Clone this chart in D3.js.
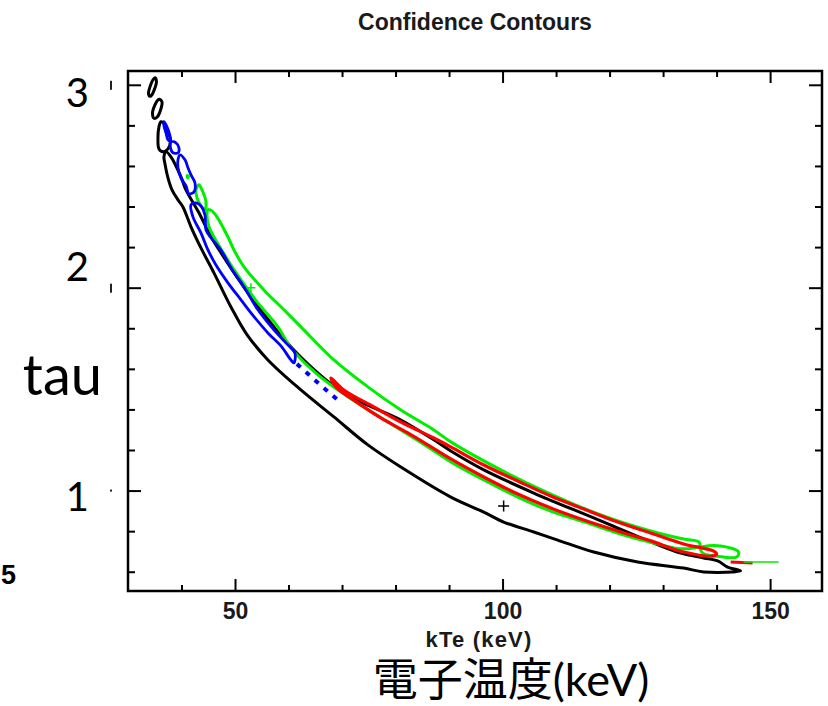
<!DOCTYPE html>
<html>
<head>
<meta charset="utf-8">
<script src="https://cdn.jsdelivr.net/npm/d3@7"></script>
<style>
  body { margin: 0; background: #fff; }
  svg { display: block; }
</style>
</head>
<body>
<svg id="chart" width="828" height="706"></svg>
<script>
// ---- axes ----
const kTeDomain = [30, 159.7];
const tauDomain = [0.505, 3.068];
const kTeMajorTicks = [50, 100, 150];
const kTeMinorTicks = [40, 60, 70, 80, 90, 110, 120, 130, 140];
const tauMajorTicks = [1, 2, 3];
const tauMinorTicks = [0.6, 0.8, 1.2, 1.4, 1.6, 1.8, 2.2, 2.4, 2.6, 2.8];
const tauLabels = ["1", "2", "3"];

// ---- confidence contours, [kTe (keV), tau] ----
const blackIslandA = [[35.04,3.035],[35.32,3.015],[35.04,2.985],[34.48,2.951],[34.11,2.943],[33.83,2.956],[34.11,2.990],[34.67,3.025]];
const blackIslandB = [[35.88,2.929],[36.35,2.916],[36.16,2.882],[35.42,2.840],[34.86,2.835],[34.58,2.862],[35.04,2.901],[35.60,2.926]];
const blackIslandC = [[36.16,2.818],[36.91,2.803],[37.47,2.768],[37.94,2.724],[37.47,2.684],[36.54,2.670],[35.79,2.684],[35.60,2.739],[35.79,2.793]];
const blackContour = [
  [37.10,2.670],[36.72,2.645],[36.91,2.610],[37.47,2.541],[38.22,2.482],[39.34,2.433],[40.27,2.398],
  [41.77,2.300],[43.63,2.196],[46.06,2.073],[49.24,1.905],[52.20,1.770],[56.15,1.644],[62.31,1.496],
  [68.48,1.363],[74.83,1.225],[80.99,1.116],[90.33,0.968],[96.49,0.894],[100.2,0.845],[105.83,0.796],
  [110.31,0.756],[117.04,0.697],[125.26,0.648],[133.85,0.618],[137.58,0.599],[144.49,0.604],
  [142.06,0.623],[140.20,0.653],[137.58,0.668],[133.29,0.692],[127.68,0.747],[117.04,0.865],
  [105.83,0.988],[96.49,1.102],[90.33,1.195],[87.15,1.250],[80.99,1.348],[70.34,1.481],[61.00,1.693],
  [52.97,1.955],[47.37,2.172],[45.13,2.270],[43.26,2.369],[40.83,2.482],[39.90,2.546],[38.03,2.645]
];

const blueIslandA = [[36.72,2.818],[37.28,2.793],[37.84,2.749],[37.94,2.724],[37.47,2.729],[37.10,2.763],[36.72,2.798]];
const blueIslandB = [[38.03,2.719],[38.96,2.714],[39.53,2.689],[39.34,2.665],[38.40,2.665],[37.94,2.689]];
const blueIslandC = [[39.71,2.655],[40.65,2.630],[41.21,2.591],[41.77,2.556],[42.51,2.517],[42.33,2.472],[41.39,2.463],[40.83,2.502],[39.90,2.541],[39.34,2.591],[39.34,2.630]];
const blueContour = [
  [41.77,2.408],[42.14,2.349],[43.63,2.270],[44.94,2.186],[46.44,2.112],[48.68,2.024],[51.11,1.940],
  [52.97,1.876],[56.15,1.777],[58.58,1.713],[60.44,1.644],[61.00,1.629],
  [61.19,1.678],[59.51,1.728],[57.27,1.792],[54.28,1.891],[51.67,2.004],[49.24,2.098],[47.37,2.186],
  [45.50,2.246],[44.57,2.285],[44.38,2.359],[43.63,2.403],[42.70,2.418]
];
const blueTail = [[61.57,1.624],[65.11,1.540],[69.41,1.442]];

const greenSpot = [[41.05,2.553],[41.30,2.548],[41.14,2.541]];
const greenIsland = [[43.26,2.507],[43.82,2.482],[44.57,2.423],[44.38,2.384],[43.63,2.403],[42.89,2.443],[42.70,2.482]];
const greenContour = [
  [44.94,2.384],[46.06,2.369],[48.68,2.250],[49.80,2.186],[51.67,2.103],[55.40,1.989],[59.14,1.891],
  [62.31,1.807],[68.48,1.644],[74.83,1.511],[80.99,1.397],[87.15,1.299],[90.33,1.240],[99.67,1.102],
  [109.00,0.983],[118.35,0.880],[127.68,0.801],[133.85,0.761],[136.65,0.747],[136.84,0.727],
  [133.29,0.713],[128.99,0.737],[122.64,0.781],[116.48,0.835],[109.00,0.899],[102.84,0.968],
  [96.49,1.052],[90.33,1.141],[86.03,1.215],[78.56,1.338],[71.65,1.452],[65.49,1.570],[60.44,1.703],
  [58.02,1.807],[54.28,1.925],[51.11,2.038],[47.93,2.167],[45.13,2.300],[44.76,2.359]
];
const greenIslandLow = [[137.02,0.717],[140.76,0.727],[144.12,0.697],[143.75,0.673],[139.83,0.678],[137.39,0.692]];
const greenTail = [[145.05,0.648],[151.59,0.648]];

const redContour = [
  [67.92,1.555],[70.34,1.496],[75.95,1.412],[80.99,1.338],[87.15,1.259],[90.33,1.215],[96.49,1.126],
  [102.84,1.047],[109.00,0.973],[115.17,0.909],[121.52,0.845],[127.68,0.791],[133.85,0.737],
  [139.45,0.702],[140.00,0.688],
  [139.45,0.678],[133.85,0.697],[127.68,0.752],[121.52,0.801],[115.17,0.855],[109.00,0.914],
  [102.84,0.983],[96.49,1.067],[90.33,1.156],[86.03,1.225],[82.30,1.284],[77.25,1.358],[72.96,1.432],
  [68.85,1.511]
];
const redTail = [[142.63,0.648],[146.73,0.643]];

const bestFitBlack = [100.2, 0.924];
const bestFitGreen = [52.97, 2.000];

// ---- drawing ----
const svg = d3.select("#chart");
const x = d3.scaleLinear().domain(kTeDomain).range([128, 822]);
const y = d3.scaleLinear().domain(tauDomain).range([591, 71]);
const [x0, x1] = x.range();
const [y0, y1] = y.range();

svg.append("rect").attr("width", 828).attr("height", 706).attr("fill", "#fff");

// title
svg.append("text")
  .attr("x", (x0 + x1) / 2).attr("y", 30)
  .attr("text-anchor", "middle")
  .attr("font-family", "'Liberation Sans', Arial, sans-serif")
  .attr("font-weight", "bold").attr("font-size", 23).attr("fill", "#1a1a1a")
  .text("Confidence Contours");

// contours, clipped to the plot frame
svg.append("clipPath").attr("id", "plotClip")
  .append("rect").attr("x", x0).attr("y", y1).attr("width", x1 - x0).attr("height", y0 - y1);
const plot = svg.append("g").attr("clip-path", "url(#plotClip)");

const closed = d3.line().x(d => x(d[0])).y(d => y(d[1])).curve(d3.curveCatmullRomClosed.alpha(0.5));
const open = d3.line().x(d => x(d[0])).y(d => y(d[1]));

const contourSets = [
  { rings: [blackIslandA, blackIslandB, blackIslandC, blackContour], color: "#000", width: 3 },
  { rings: [greenSpot, greenIsland, greenContour, greenIslandLow], color: "#00ee00", width: 3 },
  { rings: [redContour], color: "#ff0000", width: 3.2 },
  { rings: [blueIslandA, blueIslandB, blueIslandC, blueContour], color: "#0000ff", width: 2.8 }
];
contourSets.forEach(set => {
  plot.selectAll(null).data(set.rings).enter().append("path")
    .attr("d", closed)
    .attr("fill", "none").attr("stroke", set.color).attr("stroke-width", set.width)
    .attr("stroke-linejoin", "round").attr("stroke-linecap", "round");
});
plot.append("path").attr("d", open(blueTail))
  .attr("fill", "none").attr("stroke", "#0000ff").attr("stroke-width", 4)
  .attr("stroke-dasharray", "5,7");
plot.append("path").attr("d", open(redTail))
  .attr("fill", "none").attr("stroke", "#ff0000").attr("stroke-width", 3);
plot.append("path").attr("d", open(greenTail))
  .attr("fill", "none").attr("stroke", "#00ee00").attr("stroke-width", 1.6);

// best-fit markers
function cross(pt, size, color, w) {
  const cx = x(pt[0]), cy = y(pt[1]);
  plot.append("path")
    .attr("d", `M${cx - size},${cy}H${cx + size}M${cx},${cy - size}V${cy + size}`)
    .attr("stroke", color).attr("stroke-width", w).attr("fill", "none");
}
cross(bestFitBlack, 5.5, "#000", 1.5);
cross(bestFitGreen, 4.5, "#00ee00", 1.5);

// frame ticks (inward on all four sides)
function tickAxis(axisFn, scale, values, size, transform) {
  const g = svg.append("g").attr("transform", transform)
    .call(axisFn(scale).tickValues(values).tickSize(-size).tickSizeOuter(0).tickFormat(""));
  g.select(".domain").remove();
  g.selectAll(".tick line").attr("stroke", "#000").attr("stroke-width", 2);
  return g;
}
tickAxis(d3.axisBottom, x, kTeMinorTicks, 6, `translate(0,${y0})`);
tickAxis(d3.axisTop, x, kTeMinorTicks, 6, `translate(0,${y1})`);
tickAxis(d3.axisTop, x, kTeMajorTicks, 12, `translate(0,${y1})`);
tickAxis(d3.axisLeft, y, tauMinorTicks, 7, `translate(${x0},0)`);
tickAxis(d3.axisLeft, y, tauMajorTicks, 13, `translate(${x0},0)`);
tickAxis(d3.axisRight, y, tauMinorTicks, 7, `translate(${x1},0)`);
tickAxis(d3.axisRight, y, tauMajorTicks, 13, `translate(${x1},0)`);

// bottom axis with labels
const bottom = svg.append("g").attr("transform", `translate(0,${y0})`)
  .call(d3.axisBottom(x).tickValues(kTeMajorTicks).tickSize(-12).tickSizeOuter(0).tickPadding(11.5));
bottom.select(".domain").remove();
bottom.selectAll(".tick line").attr("stroke", "#000").attr("stroke-width", 2);
bottom.selectAll(".tick text")
  .attr("font-family", "'Liberation Sans', Arial, sans-serif")
  .attr("font-weight", "bold").attr("font-size", 23).attr("fill", "#1a1a1a");

// frame
svg.append("rect")
  .attr("x", x0).attr("y", y1).attr("width", x1 - x0).attr("height", y0 - y1)
  .attr("fill", "none").attr("stroke", "#000").attr("stroke-width", 2.5);

// small x-axis title
svg.append("text")
  .attr("x", (x0 + x1) / 2 + 4).attr("y", 647)
  .attr("text-anchor", "middle")
  .attr("font-family", "'Liberation Sans', Arial, sans-serif")
  .attr("font-weight", "bold").attr("font-size", 22).attr("letter-spacing", 1.2).attr("fill", "#1a1a1a")
  .text("kTe (keV)");

// worn remains of the original tau tick labels
svg.selectAll(null).data(tauMajorTicks).enter().append("rect")
  .attr("x", 110).attr("y", d => y(d) - (d === 1 ? 1 : 4))
  .attr("width", 2).attr("height", d => d === 1 ? 2 : 9)
  .attr("fill", "#222");

// large tau labels
const tauLabelShift = { "1": 20, "2": -7, "3": 22 };
svg.selectAll(null).data(tauMajorTicks).enter().append("text")
  .attr("x", 89).attr("y", d => y(d) + tauLabelShift[d])
  .attr("text-anchor", "end")
  .attr("font-family", "Lato, 'Noto Sans', sans-serif").attr("font-size", 40).attr("fill", "#000")
  .text((d, i) => tauLabels[i]);
svg.append("text")
  .attr("x", 16).attr("y", 584)
  .attr("text-anchor", "end")
  .attr("font-family", "'Liberation Sans', Arial, sans-serif").attr("font-weight", "bold")
  .attr("font-size", 27).attr("fill", "#000")
  .text("5");

svg.append("text")
  .attr("x", 102).attr("y", 395)
  .attr("text-anchor", "end")
  .attr("font-family", "Lato, 'Noto Sans', sans-serif").attr("font-size", 56).attr("fill", "#000")
  .text("tau");

svg.append("text")
  .attr("x", 511).attr("y", 696)
  .attr("text-anchor", "middle")
  .attr("font-family", "Lato, 'Noto Sans CJK JP', sans-serif").attr("font-size", 45).attr("fill", "#000")
  .text("電子温度(keV)");
</script>
</body>
</html>
